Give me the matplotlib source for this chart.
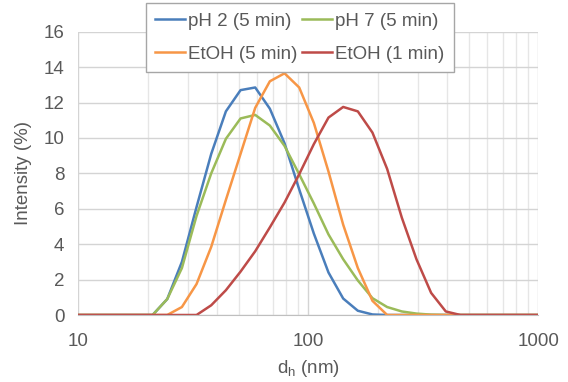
import matplotlib.pyplot as plt
from matplotlib import ticker

# DLS size bins (nm)
size_nm = [8.721, 10.10, 11.70, 13.54, 15.69, 18.17, 21.04, 24.36, 28.21, 32.67,
           37.84, 43.82, 50.75, 58.77, 68.06, 78.82, 91.28, 105.7, 122.4, 141.8,
           164.2, 190.1, 220.2, 255.0, 295.3, 342.0, 396.1, 458.7, 531.2, 615.1,
           712.4, 825.0, 955.4, 1106]

ph2_5min = [0, 0, 0, 0, 0, 0, 0, 0.9, 3.0, 6.1,
            9.1, 11.5, 12.7, 12.85, 11.65, 9.7, 7.1, 4.6, 2.4, 0.93,
            0.24, 0.03, 0, 0, 0, 0, 0, 0, 0, 0,
            0, 0, 0, 0]
ph7_5min = [0, 0, 0, 0, 0, 0, 0, 0.9, 2.65, 5.6,
            8.0, 9.95, 11.1, 11.3, 10.7, 9.55, 7.95, 6.3, 4.55, 3.15,
            1.95, 0.95, 0.45, 0.2, 0.08, 0.02, 0, 0, 0, 0,
            0, 0, 0, 0]
etoh_5min = [0, 0, 0, 0, 0, 0, 0, 0, 0.45, 1.75,
             3.85, 6.5, 9.1, 11.7, 13.2, 13.65, 12.85, 10.85, 8.1, 5.1,
             2.65, 0.8, 0, 0, 0, 0, 0, 0, 0, 0,
             0, 0, 0, 0]
etoh_1min = [0, 0, 0, 0, 0, 0, 0, 0, 0, 0,
             0.55, 1.4, 2.45, 3.6, 4.95, 6.35, 7.95, 9.65, 11.15, 11.75,
             11.5, 10.3, 8.25, 5.5, 3.15, 1.25, 0.2, 0, 0, 0,
             0, 0, 0, 0]

labels = ['pH 2 (5 min)', 'pH 7 (5 min)', 'EtOH (5 min)', 'EtOH (1 min)']
colors = ['#4A7EBB', '#9BBB59', '#F79646', '#BE4B48']

plt.rcParams['font.family'] = 'Liberation Sans'
plt.rcParams.update({'font.size': 13.5})
txt = '#595959'

fig = plt.figure(figsize=(5.68, 3.82), dpi=100)
ax = fig.add_axes([78.3/568, 1-315/382, 460/568, (315-31.7)/382])

lines = []
for y, lab, c in zip([ph2_5min, ph7_5min, etoh_5min, etoh_1min], labels, colors):
    l, = ax.plot(size_nm, y, color=c, lw=1.8, label=lab)
    lines.append(l)

ax.set_xscale('log')
ax.set_xlim(10, 1000)
ax.set_ylim(0, 16)
ax.set_yticks(range(0, 17, 2))
ax.set_xticks([10, 100, 1000])
ax.xaxis.set_major_formatter(ticker.FuncFormatter(lambda v, p: '%d' % v))
ax.xaxis.set_minor_formatter(ticker.NullFormatter())

ax.grid(True, which='major', color='#D4D4D4', lw=1)
ax.grid(True, which='minor', axis='x', color='#E6E6E6', lw=1)
ax.set_axisbelow(True)
ax.tick_params(which='both', length=0, colors=txt, labelsize=13.5)
ax.tick_params(axis='x', pad=13)
ax.tick_params(axis='y', pad=10)
for s in ['top', 'right', 'left']:
    ax.spines[s].set_visible(False)
ax.spines['bottom'].set_color('#BFBFBF')

ax.set_xlabel(r'd$_\mathregular{h}$ (nm)', color=txt, fontsize=13.5, labelpad=6)
ax.set_ylabel('Intensity (%)', color=txt, fontsize=13.5, labelpad=8)

order = [0, 2, 1, 3]
leg = fig.legend([lines[i] for i in order], [labels[i] for i in order],
                 ncol=2, loc='upper left', bbox_to_anchor=(146/568, 1-3/382),
                 bbox_transform=fig.transFigure, borderaxespad=0,
                 fancybox=False, framealpha=1, edgecolor='#A6A6A6',
                 handlelength=1.6, handletextpad=0.15, columnspacing=0.25,
                 labelspacing=0.85, borderpad=0.5, fontsize=13.5)
for t in leg.get_texts():
    t.set_color(txt)

plt.savefig('out.png', dpi=100)
